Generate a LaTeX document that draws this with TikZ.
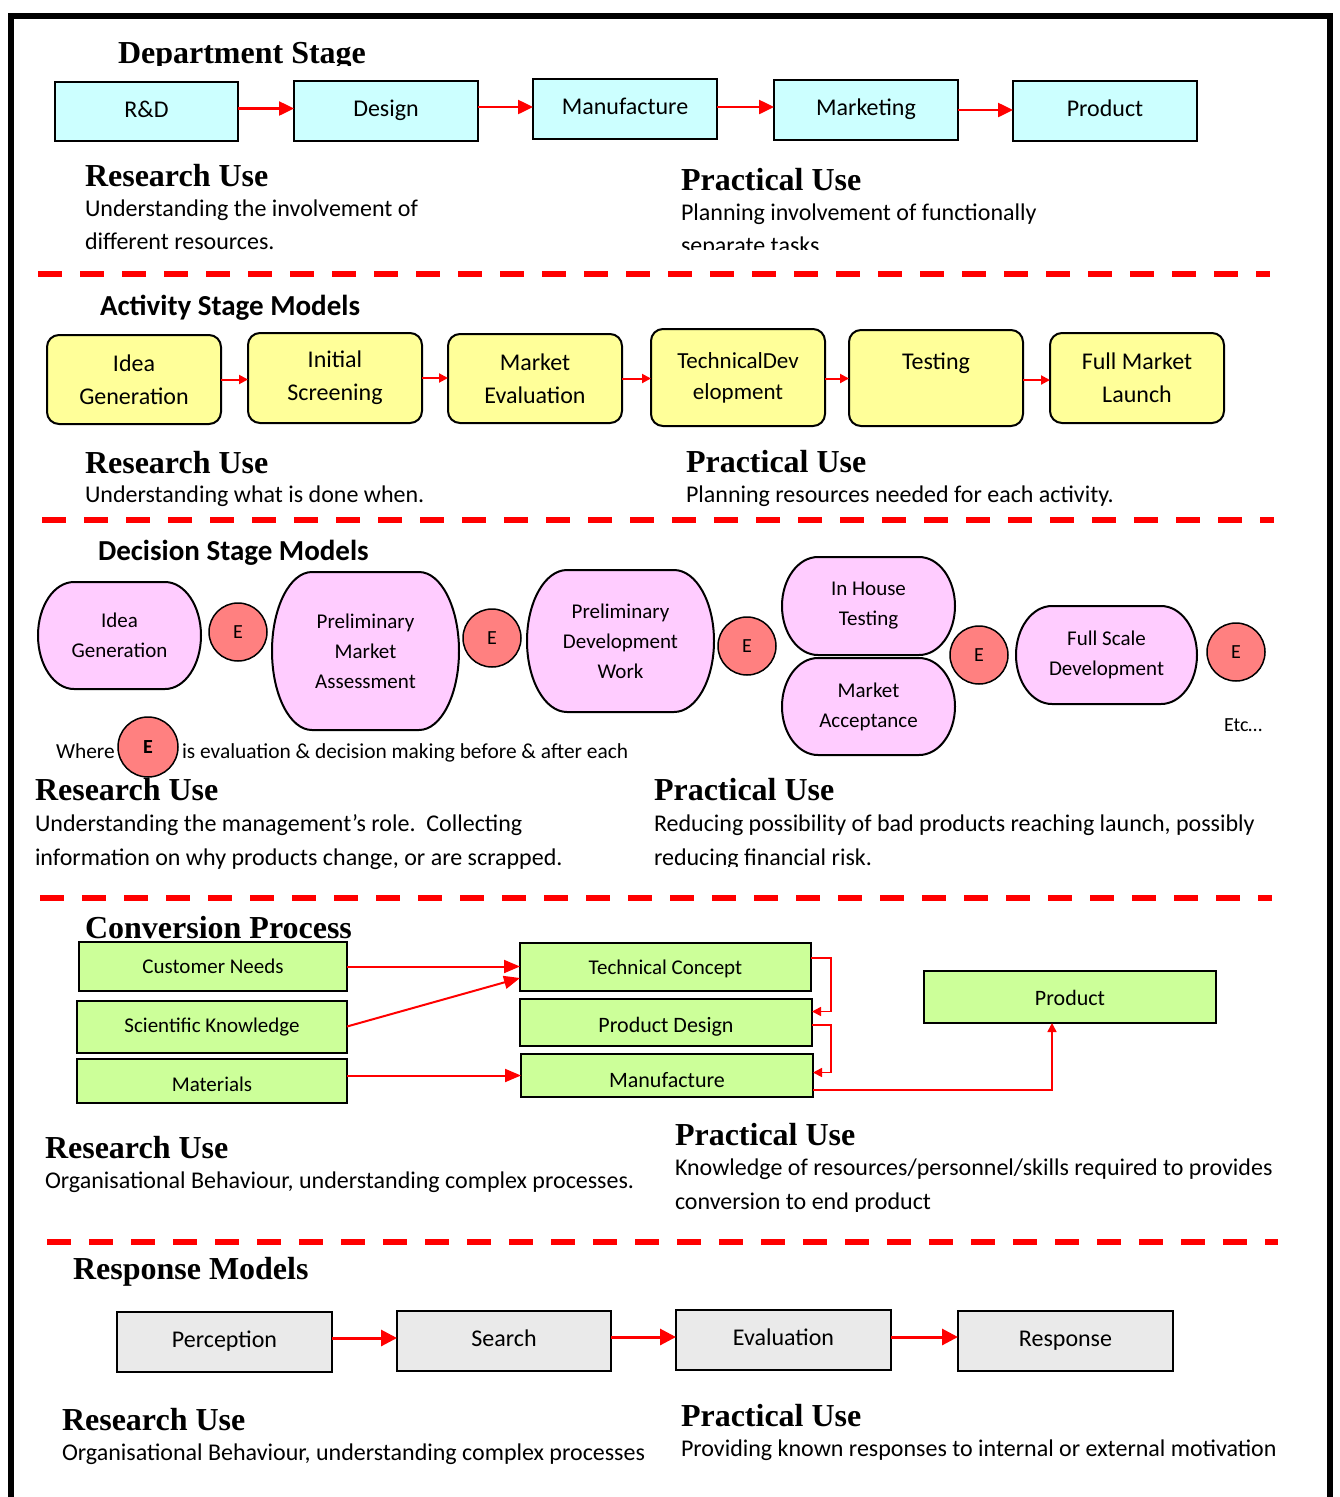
\documentclass[tikz,border=0pt]{standalone}
\usepackage{fontspec}
\setmainfont{Carlito}
\newfontfamily\tnr{Liberation Serif}
\usetikzlibrary{arrows.meta,calc,backgrounds}
\definecolor{cyanfill}{HTML}{CCFFFF}
\definecolor{yelfill}{HTML}{FFFF99}
\definecolor{pinkfill}{HTML}{FFCCFF}
\definecolor{efill}{HTML}{FF8080}
\definecolor{greenfill}{HTML}{CCFF99}
\definecolor{greyfill}{HTML}{EAEAEA}
\definecolor{arrred}{HTML}{FF0000}
\newcommand\bulgeshape[2]{%
  \draw[pinkline] ($(#1.north west)+(#2,0)$) -- ($(#1.north east)+(-#2,0)$)
   .. controls ($(#1.north east)+(-0.448*#2,0)$) and ($(#1.east)!0.552!(#1.north east)$) .. (#1.east)
   .. controls ($(#1.east)!0.552!(#1.south east)$) and ($(#1.south east)+(-0.448*#2,0)$) .. ($(#1.south east)+(-#2,0)$)
   -- ($(#1.south west)+(#2,0)$)
   .. controls ($(#1.south west)+(0.448*#2,0)$) and ($(#1.west)!0.552!(#1.south west)$) .. (#1.west)
   .. controls ($(#1.west)!0.552!(#1.north west)$) and ($(#1.north west)+(0.448*#2,0)$) .. ($(#1.north west)+(#2,0)$) -- cycle;}
\begin{document}
\begin{tikzpicture}[x=1pt,y=-1pt,
  every node/.style={inner sep=0pt, outer sep=0pt},
  body/.style={anchor=base west, font=\fontsize{24}{33}\selectfont},
  head/.style={anchor=base west, font=\tnr\bfseries\fontsize{32}{36}\selectfont},
  subhead/.style={anchor=base west, font=\bfseries\fontsize{29}{32}\selectfont},
  cyanbox/.style={draw=black, line width=2pt, fill=cyanfill, font=\fontsize{24}{30}\selectfont, text height=16pt, text depth=5pt},
  yelbox/.style={draw=black, line width=2pt, fill=yelfill, rounded corners=12pt, align=center, font=\fontsize{24}{33}\selectfont},
  pinktxt/.style={align=center, font=\fontsize{21}{30}\selectfont},
  pinkline/.style={draw=black, line width=2pt, fill=pinkfill},
  ecirc/.style={circle, draw=black, line width=1.5pt, fill=efill, minimum size=58pt, font=\fontsize{20}{24}\selectfont},
  greenbox/.style={draw=black, line width=2pt, fill=greenfill, font=\fontsize{21}{24}\selectfont, text height=15pt, text depth=4pt},
  greybox/.style={draw=black, line width=2pt, fill=greyfill, font=\fontsize{24}{28}\selectfont, text height=16pt, text depth=5pt},
  legend/.style={anchor=base west, font=\fontsize{21.4}{24}\selectfont},
  sepline/.style={arrred, line width=5.5pt, dash pattern=on 24pt off 18pt},
  bigarrow/.style={arrred, line width=2.5pt, -{Triangle[length=15pt,width=14pt]}},
  smallarrow/.style={arrred, line width=2pt, -{Triangle[length=9pt,width=9pt]}},
  convarrow/.style={arrred, line width=2pt, -{Triangle[length=16pt,width=13pt]}},
  elbowarrow/.style={arrred, line width=1.6pt, -{Triangle[length=9pt,width=9pt]}},
  resparrow/.style={arrred, line width=3pt, -{Triangle[length=16pt,width=16pt]}}
]
\useasboundingbox (0,0) rectangle (1339,1497);
% frame
\draw[line width=6pt] (11,1500) -- (11,16) -- (1330,16) -- (1330,1500);

% ===== Section 1 =====
\begin{scope}
  \clip (100,20) rectangle (420,65);
  \node[head] (dept) at (118,63) {Department Stage};
\end{scope}
\node[cyanbox, minimum width=183, minimum height=59] (rd) at (146.5,111.5) {R\&D};
\node[cyanbox, minimum width=184, minimum height=60] (design) at (386,111) {Design};
\node[cyanbox, minimum width=184, minimum height=60] (manu) at (625,109) {Manufacture};
\node[cyanbox, minimum width=184, minimum height=60] (mark) at (866,110) {Marketing};
\node[cyanbox, minimum width=184, minimum height=60] (prod) at (1105,111) {Product};
\draw[bigarrow] ($(rd.east)+(0,-3)$) -- ($(rd.east -| design.west)+(0,-3)$);
\draw[bigarrow] ($(design.east)+(0,-4)$) -- ($(design.east -| manu.west)+(0,-4)$);
\draw[bigarrow] ($(manu.east)+(0,-2)$) -- ($(manu.east -| mark.west)+(0,-2)$);
\draw[bigarrow] (mark.east) -- (mark.east -| prod.west);
\node[head] (ru1) at (85,186) {Research Use};
\node[body] (ru1a) at (85,216) {Understanding the involvement of};
\node[body] (ru1b) at (85,249) {different resources.};
\node[head] (pu1) at (681,190) {Practical Use};
\node[body] (pu1a) at (681,220) {Planning involvement of functionally};
\begin{scope}
  \clip (670,225) rectangle (1000,249);
  \node[body] (pu1b) at (681,253) {separate tasks};
\end{scope}
\draw[sepline] (38,274) -- (1270,274);

% ===== Section 2 =====
\node[subhead] (act) at (100,315) {Activity Stage Models};
\node[yelbox, minimum width=174, minimum height=89] (y1) at (134,379.5) {Idea\\Generation};
\node[yelbox, minimum width=174, minimum height=90] (y2) at (335,378) {Initial\\Screening};
\node[yelbox, minimum width=174, minimum height=89] (y3) at (535,378.5) {Market\\Evaluation};
\node[yelbox, minimum width=174, minimum height=97, font=\fontsize{23}{31}\selectfont] (y4) at (738,377.5) {TechnicalDev\\elopment};
\node[yelbox, minimum width=174, minimum height=96] (y5) at (936,378) {Testing\\\mbox{}};
\node[yelbox, minimum width=174, minimum height=90] (y6) at (1137,378) {Full Market\\Launch};
\draw[smallarrow] (y1.east) -- (y1.east -| y2.west);
\draw[smallarrow] (y2.east) -- (y2.east -| y3.west);
\draw[smallarrow] (y3.east) -- (y3.east -| y4.west);
\draw[smallarrow] ($(y4.east)+(0,1)$) -- ($(y4.east -| y5.west)+(0,1)$);
\draw[smallarrow] ($(y5.east)+(0,2)$) -- ($(y5.east -| y6.west)+(0,2)$);
\node[head] (ru2) at (85,473) {Research Use};
\node[body] (ru2a) at (85,502) {Understanding what is done when.};
\node[head] (pu2) at (686,472) {Practical Use};
\node[body] (pu2a) at (686,502) {Planning resources needed for each activity.};
\draw[sepline] (42,520) -- (1274,520);

% ===== Section 3 =====
\node[subhead] (dec) at (98,560) {Decision Stage Models};
\node[pinktxt, minimum width=163, minimum height=107] (p1) at (119.5,635.5) {Idea\\Generation};
\node[pinktxt, minimum width=187, minimum height=158] (p2) at (365.5,651) {Preliminary\\Market\\Assessment};
\node[pinktxt, minimum width=187, minimum height=142] (p3) at (620.5,641) {Preliminary\\Development\\Work};
\node[pinktxt, minimum width=173, minimum height=98] (p4) at (868.5,606) {In House\\Testing};
\node[pinktxt, minimum width=173, minimum height=97] (p5) at (868.5,706.5) {Market\\Acceptance};
\node[pinktxt, minimum width=181, minimum height=98] (p6) at (1106.5,655) {Full Scale\\Development};
\begin{scope}[on background layer]
  \bulgeshape{p1}{36}
  \bulgeshape{p2}{40}
  \bulgeshape{p3}{40}
  \bulgeshape{p4}{36}
  \bulgeshape{p5}{36}
  \bulgeshape{p6}{36}
\end{scope}
\node[ecirc] (e1) at (238,632) {E};
\node[ecirc] (e2) at (492,638) {E};
\node[ecirc] (e3) at (747,646) {E};
\node[ecirc] (e4) at (979,655) {E};
\node[ecirc] (e5) at (1236,652) {E};
\node[ecirc, minimum size=60pt, font=\bfseries\fontsize{20}{24}\selectfont] (eleg) at (148,747) {E};
\node[legend] (where) at (56,758) {Where};
\node[legend] (legtxt) at (182,758) {is evaluation \& decision making before \& after each};
\node[legend, font=\fontsize{20}{24}\selectfont] (etc) at (1224,731) {Etc…};
\node[head] (ru3) at (35,800) {Research Use};
\node[body] (ru3a) at (35,831) {Understanding the management’s role.\ \ Collecting};
\node[body] (ru3b) at (35,865) {information on why products change, or are scrapped.};
\node[head] (pu3) at (654,800) {Practical Use};
\node[body] (pu3a) at (654,831) {Reducing possibility of bad products reaching launch, possibly};
\begin{scope}
  \clip (640,840) rectangle (1000,866);
  \node[body] (pu3b) at (654,865) {reducing financial risk.};
\end{scope}
\draw[sepline] (40,898) -- (1272,898);

% ===== Section 4 =====
\node[head] (conv) at (85,938) {Conversion Process};
\node[greenbox, minimum width=268, minimum height=49, text height=14pt, text depth=1pt] (cn) at (213,966.5) {Customer Needs};
\node[greenbox, minimum width=270, minimum height=52] (sk) at (212,1026.5) {Scientific Knowledge};
\node[greenbox, minimum width=270, minimum height=44, text height=20pt, text depth=0pt] (mat) at (212,1081) {Materials};
\node[greenbox, minimum width=291, minimum height=48, text height=15pt, text depth=1pt] (tc) at (665.5,967) {Technical Concept};
\node[greenbox, minimum width=292, minimum height=47, font=\fontsize{22}{24}\selectfont, text height=19pt, text depth=0pt] (pd) at (666,1022.5) {Product Design};
\node[greenbox, minimum width=292, minimum height=43, font=\fontsize{22}{24}\selectfont, text height=23pt, text depth=0pt] (man) at (667,1075.5) {Manufacture};
\node[greenbox, minimum width=292, minimum height=52, font=\fontsize{22}{24}\selectfont, text height=16pt, text depth=0pt] (cprod) at (1070,997) {Product};
\draw[convarrow] (cn.east) -- (cn.east -| tc.west);
\draw[convarrow] (sk.east) -- ($(tc.west)+(0,11)$);
\draw[convarrow] (mat.east |- man.west) -- (man.west);
\draw[elbowarrow] ($(tc.east)+(0,-9)$) -- ++(20,0) |- ($(pd.east)+(0,-11)$);
\draw[elbowarrow] ($(pd.east)+(0,2.5)$) -- ++(19,0) |- ($(man.east)+(0,-3)$);
\draw[elbowarrow] ($(man.east)+(0,14.5)$) -| ($(cprod.south)+(-18,0)$);
\node[head] (ru4) at (45,1158) {Research Use};
\node[body] (ru4a) at (45,1188) {Organisational Behaviour, understanding complex processes.};
\node[head] (pu4) at (675,1145) {Practical Use};
\node[body] (pu4a) at (675,1175) {Knowledge of resources/personnel/skills required to provides};
\begin{scope}
  \clip (660,1185) rectangle (1000,1211);
  \node[body] (pu4b) at (675,1209) {conversion to end product};
\end{scope}
\draw[sepline] (47,1242) -- (1278,1242);

% ===== Section 5 =====
\node[head] (resp) at (73,1279) {Response Models};
\node[greybox, minimum width=215, minimum height=60] (g1) at (224.5,1342) {Perception};
\node[greybox, minimum width=214, minimum height=60] (g2) at (504,1341) {Search};
\node[greybox, minimum width=215, minimum height=60] (g3) at (783.5,1340) {Evaluation};
\node[greybox, minimum width=215, minimum height=60] (g4) at (1065.5,1341) {Response};
\draw[resparrow] ($(g1.east)+(0,-4)$) -- ($(g1.east -| g2.west)+(0,-4)$);
\draw[resparrow] ($(g2.east)+(0,-4)$) -- ($(g2.east -| g3.west)+(0,-4)$);
\draw[resparrow] ($(g3.east)+(0,-3)$) -- ($(g3.east -| g4.west)+(0,-3)$);
\node[head] (ru5) at (62,1430) {Research Use};
\node[body] (ru5a) at (62,1460) {Organisational Behaviour, understanding complex processes};
\node[head] (pu5) at (681,1426) {Practical Use};
\node[body] (pu5a) at (681,1456) {Providing known responses to internal or external motivation};
\end{tikzpicture}
\end{document}
